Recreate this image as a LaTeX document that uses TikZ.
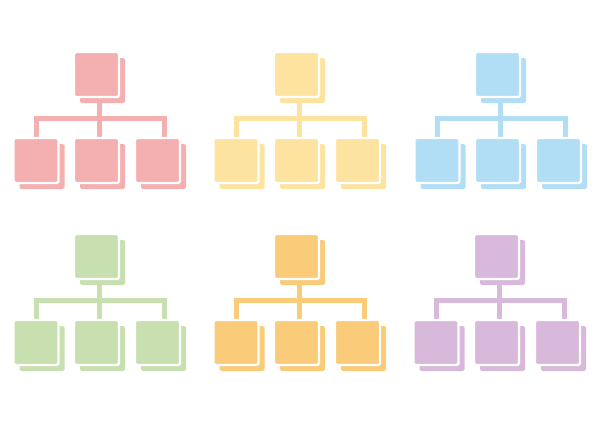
\documentclass[tikz,border=0pt]{standalone}
\usepackage{tikz}
\usetikzlibrary{backgrounds}
\definecolor{boxred}{RGB}{244,176,177}
\definecolor{boxyellow}{RGB}{253,227,160}
\definecolor{boxblue}{RGB}{177,221,245}
\definecolor{boxgreen}{RGB}{200,224,175}
\definecolor{boxorange}{RGB}{250,203,120}
\definecolor{boxpurple}{RGB}{217,185,219}
\tikzset{
  backbox/.style={minimum size=22.5pt, inner sep=0, outer sep=0, fill=#1,
    draw=none, rounded corners=0.8pt},
  orgbox/.style={minimum size=22.5pt, inner sep=0, outer sep=0, fill=#1,
    draw=white, line width=1.2pt, rounded corners=0.8pt},
  link/.style={draw=#1, line width=2.5pt}
}

\begin{document}
\begin{tikzpicture}[x=0.5pt, y=-0.5pt]

\useasboundingbox (0,0) rectangle (600,424);

% one chart per colour
\foreach \g/\gx/\gy/\c in {r/0/0/boxred, y/200/0/boxyellow, b/401/0/boxblue,
                           g/0/182/boxgreen, o/200/182/boxorange, p/400/182/boxpurple} {
  \begin{scope}[shift={(\gx,\gy)}]
    % shadows
    \node [backbox=\c] at (102.5,80.5) {};
    \node [backbox=\c] at (42,166.5) {};
    \node [backbox=\c] at (102.5,166.5) {};
    \node [backbox=\c] at (163.5,166.5) {};
    % boxes
    \node [orgbox=\c] (\g-top) at (96.5,74.5) {};
    \node [orgbox=\c] (\g-l) at (36,160.5) {};
    \node [orgbox=\c] (\g-m) at (96.5,160.5) {};
    \node [orgbox=\c] (\g-r) at (157.5,160.5) {};
    \coordinate (\g-bar) at (99.5,118.5);
    % connectors
    \begin{pgfonlayer}{background}
      \draw [link=\c] ([xshift=1.5pt]\g-top.center) -- ([xshift=1.5pt]\g-m.center);
      \draw [link=\c] (\g-l.center) |- (\g-bar) -| ([xshift=3.25pt]\g-r.center);
    \end{pgfonlayer}
  \end{scope}
}

\end{tikzpicture}
\end{document}
